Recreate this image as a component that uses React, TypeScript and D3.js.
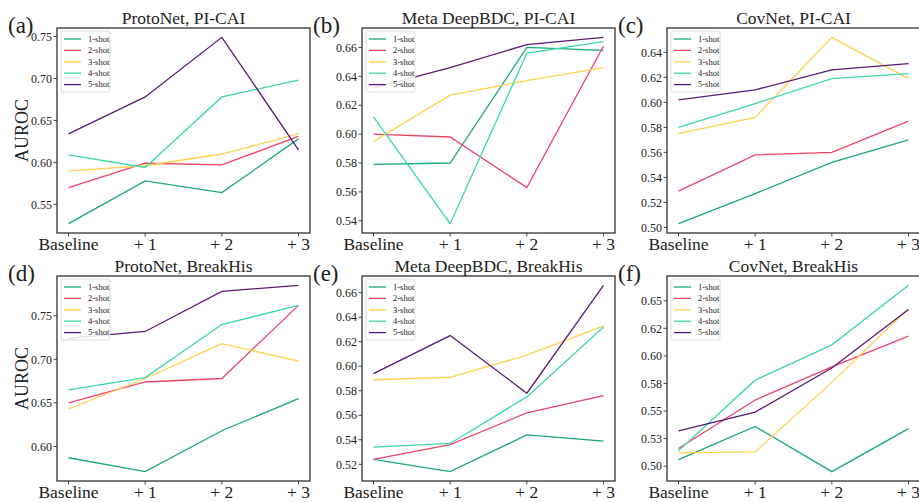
import React from "react";
import * as d3 from "d3";

// x categories and series names
const steps = ["Baseline", "+ 1", "+ 2", "+ 3"];
const shots = ["1-shot", "2-shot", "3-shot", "4-shot", "5-shot"];
const shotColors = ["#1aa878", "#ee4468", "#ffd24f", "#3ed6ae", "#5a1b78"];

// AUROC values, one row per shot setting
const protoPicai = [
  [0.527, 0.578, 0.564, 0.628],
  [0.570, 0.599, 0.597, 0.631],
  [0.590, 0.596, 0.610, 0.634],
  [0.609, 0.594, 0.678, 0.698],
  [0.634, 0.678, 0.749, 0.615],
];
const bdcPicai = [
  [0.579, 0.580, 0.660, 0.658],
  [0.600, 0.598, 0.563, 0.661],
  [0.595, 0.627, 0.637, 0.646],
  [0.612, 0.538, 0.656, 0.664],
  [0.632, 0.646, 0.662, 0.667],
];
const covPicai = [
  [0.503, 0.527, 0.552, 0.570],
  [0.529, 0.558, 0.560, 0.585],
  [0.575, 0.588, 0.652, 0.619],
  [0.580, 0.599, 0.619, 0.623],
  [0.602, 0.610, 0.626, 0.631],
];
const protoBreak = [
  [0.587, 0.571, 0.618, 0.655],
  [0.650, 0.674, 0.678, 0.762],
  [0.643, 0.678, 0.718, 0.698],
  [0.665, 0.679, 0.740, 0.762],
  [0.724, 0.732, 0.778, 0.785],
];
const bdcBreak = [
  [0.524, 0.514, 0.544, 0.539],
  [0.524, 0.536, 0.562, 0.576],
  [0.589, 0.591, 0.609, 0.633],
  [0.534, 0.537, 0.575, 0.632],
  [0.594, 0.625, 0.578, 0.666],
];
const covBreak = [
  [0.506, 0.536, 0.495, 0.534],
  [0.516, 0.560, 0.590, 0.618],
  [0.512, 0.513, 0.576, 0.643],
  [0.514, 0.578, 0.610, 0.664],
  [0.532, 0.549, 0.589, 0.642],
];

// y ticks per panel
const ticksA = [0.55, 0.6, 0.65, 0.7, 0.75];
const ticksB = [0.54, 0.56, 0.58, 0.6, 0.62, 0.64, 0.66];
const ticksC = [0.5, 0.52, 0.54, 0.56, 0.58, 0.6, 0.62, 0.64];
const ticksD = [0.6, 0.65, 0.7, 0.75];
const ticksE = [0.52, 0.54, 0.56, 0.58, 0.6, 0.62, 0.64, 0.66];
const ticksF = [0.5, 0.525, 0.55, 0.575, 0.6, 0.625, 0.65];
const tickLabelsF = ["0.50", "0.53", "0.55", "0.58", "0.60", "0.62", "0.65"];

const panels = [
  { tag: "(a)", title: "ProtoNet, PI-CAI", data: protoPicai, ticks: ticksA, ylabel: true },
  { tag: "(b)", title: "Meta DeepBDC, PI-CAI", data: bdcPicai, ticks: ticksB },
  { tag: "(c)", title: "CovNet, PI-CAI", data: covPicai, ticks: ticksC },
  { tag: "(d)", title: "ProtoNet, BreakHis", data: protoBreak, ticks: ticksD, ylabel: true },
  { tag: "(e)", title: "Meta DeepBDC, BreakHis", data: bdcBreak, ticks: ticksE },
  { tag: "(f)", title: "CovNet, BreakHis", data: covBreak, ticks: ticksF, labels: tickLabelsF },
];

const W = 919;
const H = 502;
const colLeft = [57, 362, 667];
const rowTop = [28, 276];
const PW = 253;
const PH = 205;
const FONT = "'Liberation Serif', 'DejaVu Serif', serif";
const INK = "#222";

function Panel({ p, x0, y0 }: any) {
  const x = d3.scalePoint().domain(steps).range([0, PW]).padding(0.15);
  const all = p.data.flat();
  const [lo, hi] = d3.extent(all) as [number, number];
  const m = (hi - lo) * 0.05;
  const y = d3.scaleLinear().domain([lo - m, hi + m]).range([PH, 0]);
  const line = d3
    .line<number>()
    .x((_, i) => x(steps[i]) as number)
    .y((v) => y(v));
  const id = "clip" + p.tag.replace(/\W/g, "");
  return (
    <g transform={`translate(${x0},${y0})`}>
      <defs>
        <clipPath id={id}>
          <rect x={0} y={0} width={PW} height={PH} />
        </clipPath>
      </defs>
      <g clipPath={`url(#${id})`}>
        {p.data.map((row: number[], i: number) => (
          <path key={i} d={line(row) as string} fill="none" stroke={shotColors[i]} strokeWidth={1.3} />
        ))}
      </g>
      <rect x={0} y={0} width={PW} height={PH} fill="none" stroke="#333" strokeWidth={1.3} />
      {p.ticks.map((t: number, i: number) => (
        <g key={t} transform={`translate(0,${y(t)})`}>
          <line x1={-3.5} x2={0} stroke="#333" strokeWidth={0.9} />
          <text x={-5} dy="0.35em" textAnchor="end" fontSize={12} fill={INK} fontFamily={FONT}>
            {p.labels ? p.labels[i] : t.toFixed(2)}
          </text>
        </g>
      ))}
      {steps.map((s) => (
        <g key={s} transform={`translate(${x(s)},${PH})`}>
          <line y1={0} y2={3.5} stroke="#333" strokeWidth={0.9} />
          <text y={17} textAnchor="middle" fontSize={17.5} fill={INK} fontFamily={FONT}>
            {s}
          </text>
        </g>
      ))}
      <text x={PW / 2} y={-4} textAnchor="middle" fontSize={17.5} fill={INK} fontFamily={FONT}>
        {p.title}
      </text>
      <text x={-49} y={5} fontSize={23} fill={INK} fontFamily={FONT}>
        {p.tag}
      </text>
      {p.ylabel && (
        <text
          transform={`translate(-29,${PH / 2}) rotate(-90)`}
          textAnchor="middle"
          fontSize={18}
          fill={INK}
          fontFamily={FONT}
        >
          AUROC
        </text>
      )}
      <g transform="translate(4,3)">
        <rect width={49} height={61} rx={2} fill="white" fillOpacity={0.85} stroke="#d6d6d6" strokeWidth={0.8} />
        {shots.map((s, i) => (
          <g key={s} transform={`translate(0,${8 + i * 11.4})`}>
            <line x1={3} x2={20} stroke={shotColors[i]} strokeWidth={1.3} />
            <text x={27} dy="0.33em" fontSize={8.5} fill={INK} fontFamily={FONT}>
              {s}
            </text>
          </g>
        ))}
      </g>
    </g>
  );
}

export default function App() {
  return (
    <svg width={W} height={H} style={{ position: "absolute", left: 0, top: 0, background: "white" }}>
      {panels.map((p, i) => (
        <Panel key={p.tag} p={p} x0={colLeft[i % 3]} y0={rowTop[Math.floor(i / 3)]} />
      ))}
    </svg>
  );
}
